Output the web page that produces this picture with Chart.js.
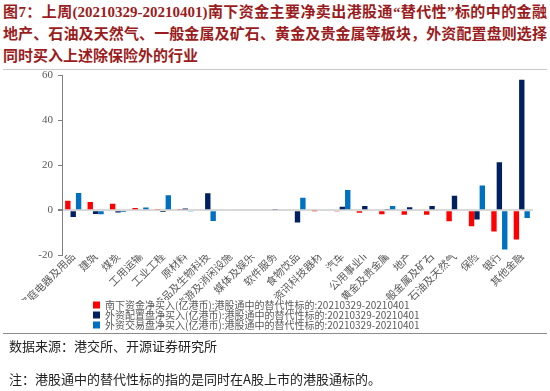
<!DOCTYPE html>
<html>
<head>
<meta charset="utf-8">
<script src="https://cdn.jsdelivr.net/npm/chart.js@4"></script>
<style>
  body { margin: 0; width: 550px; height: 391px; background: #fff; position: relative; overflow: hidden;
         font-family: "Liberation Serif", "Noto Sans CJK SC", serif; }
  #title { position: absolute; left: 3px; top: 1px; width: 544px; color: #9b1c20; font-weight: bold;
           font-size: 15px; line-height: 22px; }
  #title .j { text-align: justify; text-align-last: justify; }
  .rule { position: absolute; left: 3px; width: 544px; height: 0; }
  #chartBox { position: absolute; left: 0; top: 64px; width: 550px; height: 279px; }
  .foot { position: absolute; left: 9px; font-size: 13px; color: #222; font-family: "Noto Sans CJK SC", sans-serif; }
</style>
</head>
<body>
<div id="title">
  <div class="j">图7：上周(20210329-20210401)南下资金主要净卖出港股通“替代性”标的中的金融</div>
  <div class="j">地产、石油及天然气、一般金属及矿石、黄金及贵金属等板块，外资配置盘则选择</div>
  <div>同时买入上述除保险外的行业</div>
</div>
<div class="rule" style="top:69px; border-top:1.5px solid #c8c8c8;"></div>
<div id="chartBox"><canvas id="chart" width="550" height="279"></canvas></div>
<div class="rule" style="top:333px; border-top:1px solid #8c8c8c;"></div>
<div class="foot" style="top:336px;">数据来源：港交所、开源证券研究所</div>
<div class="foot" style="top:369px;">注：港股通中的替代性标的指的是同时在A股上市的港股通标的。</div>

<script>
const categories = ['家庭电器及用品', '建筑', '煤炭', '工用运输', '工业工程', '原材料', '药品及生物科技',
  '旅游及消闲设施', '媒体及娱乐', '软件服务', '食物饮品', '资讯科技器材', '汽车', '公用事业II',
  '黄金及贵金属', '地产', '一般金属及矿石', '石油及天然气', '保险', '银行', '其他金融'];

// 亿港币
const southbound = [4.2, 3.6, 2.8, 1.0, 0.5, 0.5, 0.4, 0, 0, 0, 0, -0.3, -0.4, -1.2, -1.8, -2.1, -2.1, -5.0, -7.2, -9.5, -13.1];
const foreignAllocation = [-3.0, -1.7, -1.0, 0, -0.8, 0.7, 7.5, 0, 0, 0.3, -5.5, 0, 1.5, 1.8, 0.3, 1.3, 1.9, 6.4, -4.2, 21.4, 58.2];
const foreignTrading = [7.6, -1.8, -0.8, 1.2, 6.7, -0.6, -4.8, -0.5, 0, -0.5, 5.5, 0, 9.0, 0, 1.8, 0, 0, -0.5, 11.0, -17.6, -3.5];

const seriesNames = [
  '南下资金净买入(亿港币):港股通中的替代性标的:20210329-20210401',
  '外资配置盘净买入(亿港币):港股通中的替代性标的:20210329-20210401',
  '外资交易盘净买入(亿港币):港股通中的替代性标的:20210329-20210401'
];
const yTicks = [-20, 0, 20, 40, 60];

const grey = '#595959';
const cjk = '"Noto Sans CJK SC", sans-serif';

// keep the legend rows left-aligned under the plot, like the original
const legendShift = {
  id: 'legendShift',
  afterLayout(chart) { chart.legend.left = 93; }
};

new Chart(document.getElementById('chart'), {
  type: 'bar',
  data: {
    labels: categories,
    datasets: [
      { label: seriesNames[0], data: southbound, backgroundColor: '#FF0000' },
      { label: seriesNames[1], data: foreignAllocation, backgroundColor: '#002060' },
      { label: seriesNames[2], data: foreignTrading, backgroundColor: '#0070C0' }
    ]
  },
  options: {
    responsive: false,
    animation: false,
    devicePixelRatio: 1,
    layout: { padding: { left: 0, right: 17, top: 0, bottom: 3 } },
    datasets: { bar: { barPercentage: 1, categoryPercentage: 0.72 } },
    plugins: {
      legend: {
        position: 'bottom',
        align: 'start',
        labels: { boxWidth: 7, boxHeight: 7, padding: 0, color: grey, font: { family: cjk, size: 10 } }
      },
      tooltip: { enabled: false }
    },
    scales: {
      x: {
        grid: { display: false },
        border: { display: false },
        ticks: { autoSkip: false, minRotation: 45, maxRotation: 45, padding: -13, color: grey,
                 font: { family: cjk, size: 10.5 } },
        afterFit(scale) { scale.height = 45; }
      },
      y: {
        min: -20,
        max: 60,
        afterBuildTicks(scale) { scale.ticks = yTicks.map(v => ({ value: v })); },
        ticks: { color: grey, padding: 5, font: { family: '"Liberation Serif", serif', size: 11 } },
        grid: {
          color: c => (c.tick && c.tick.value === 0 ? '#d9d9d9' : 'rgba(0,0,0,0)'),
          lineWidth: c => (c.tick && c.tick.value === 0 ? 2 : 1),
          tickColor: '#7f7f7f',
          tickLength: 4
        },
        border: { color: '#7f7f7f' },
        afterFit(scale) { scale.width = 62; }
      }
    }
  },
  plugins: [legendShift]
});
</script>
</body>
</html>
